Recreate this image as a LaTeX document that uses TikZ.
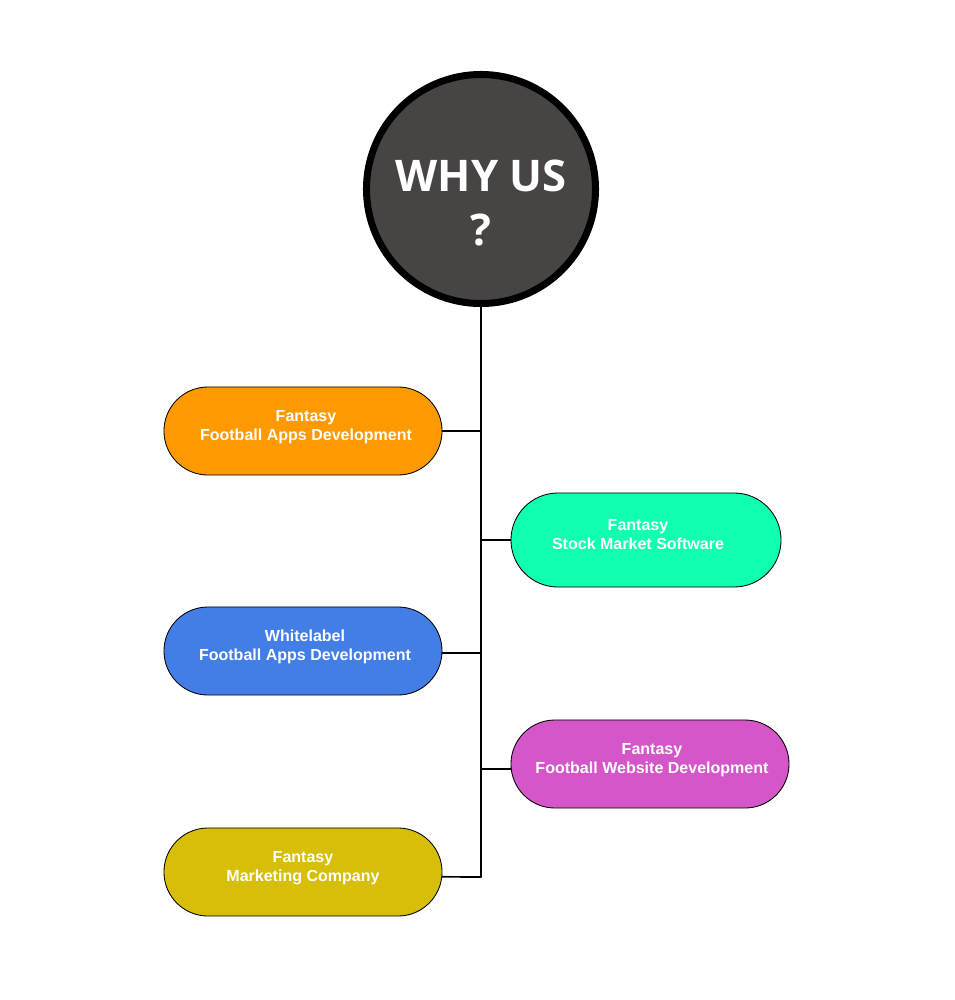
\documentclass[tikz,border=0pt]{standalone}
\usepackage{fontspec}
\setmainfont{Liberation Sans}
\newfontfamily\titlefont{Open Sans}
\usetikzlibrary{shapes.misc}
\newcommand{\pilltext}[2][0cm]{\raisebox{0cm}[0pt][0pt]{\hspace*{#1}\begin{tabular}{@{}c@{}}#2\end{tabular}}}
\begin{document}
\begin{tikzpicture}[x=0.025cm, y=-0.025cm, line join=round, line cap=round]
          \definecolor{cHub}{RGB}{71, 68, 67}
          \definecolor{cApps}{RGB}{255, 153, 0}
          \definecolor{cStock}{RGB}{17, 255, 177}
          \definecolor{cWhite}{RGB}{67, 125, 230}
          \definecolor{cWeb}{RGB}{212, 86, 200}
          \definecolor{cMark}{RGB}{214, 190, 9}

          \tikzset{
            pill/.style={rounded rectangle, draw=black, line width=0.6pt,
              minimum width=6.95cm, minimum height=2.2cm, inner sep=0pt,
              text=white, align=center,
              font=\bfseries\fontsize{11.4}{13.5}\selectfont},
            link/.style={black, line width=1.2pt}
          }

          \useasboundingbox (0,0) rectangle (954,1000);

          \node[circle, fill=cHub, draw=black, line width=0.175cm,
            minimum size=5.725cm, inner sep=0pt, text=white,
            font=\titlefont\bfseries\fontsize{31}{38.5}\selectfont]
            (why) at (481,189) {\raisebox{-0.675cm}[0pt][0pt]{\begin{tabular}{@{}c@{}}WHY US\\?\end{tabular}}};

          \node[pill, fill=cApps] (fantasyApps) at (303,431) {\pilltext[0.15cm]{Fantasy\\Football Apps Development}};
          \node[pill, fill=cStock, minimum width=6.75cm, minimum height=2.35cm] (stockSoft) at (646,540) {\pilltext{Fantasy\\Stock Market Software}\hspace*{0.4cm}};
          \node[pill, fill=cWhite] (whiteApps) at (303,651) {\pilltext[0.1cm]{Whitelabel\\Football Apps Development}};
          \node[pill, fill=cWeb] (webDev) at (650,764) {\pilltext[0.1cm]{Fantasy\\Football Website Development}};
          \node[pill, fill=cMark] (marketing) at (303,872) {\pilltext{Fantasy\\Marketing Company}};

          \coordinate (spineEnd) at (481,877);

          \draw[link] (why.south) -- (spineEnd);
          \draw[link] (fantasyApps.east) -- (fantasyApps.east -| spineEnd);
          \draw[link] (stockSoft.west) -- (stockSoft.west -| spineEnd);
          \draw[link] ([yshift=-0.05cm]whiteApps.east) -- ([yshift=-0.05cm]whiteApps.east -| spineEnd);
          \draw[link] ([yshift=-0.12cm]webDev.west) -- ([yshift=-0.12cm]webDev.west -| spineEnd);
          \draw[link] ([yshift=-0.12cm]marketing.east) -- (spineEnd);
        \end{tikzpicture}
\end{document}
